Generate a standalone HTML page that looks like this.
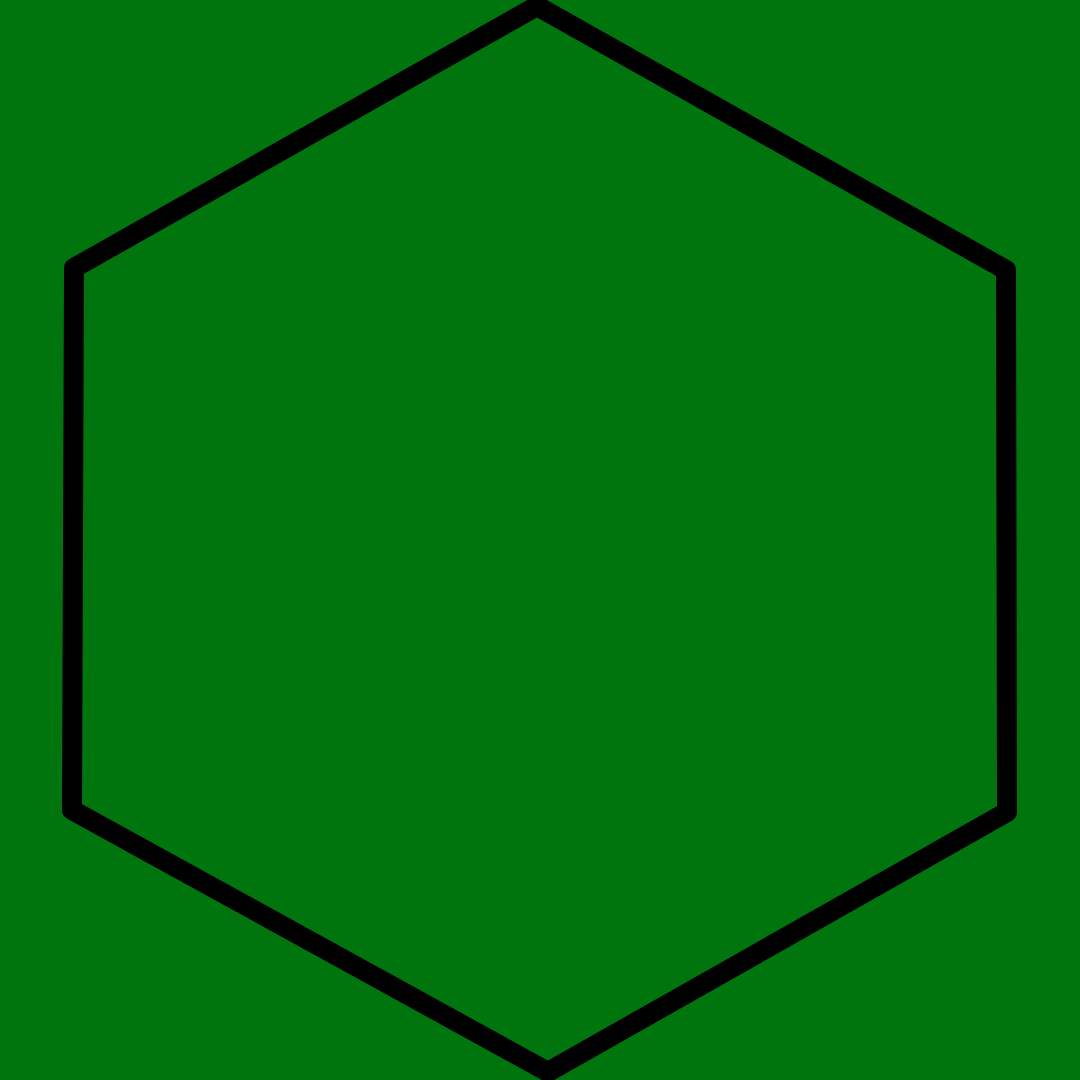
<!DOCTYPE html>
<html>
<head>
<meta charset="utf-8">
<style>
  html, body { margin: 0; padding: 0; width: 1080px; height: 1080px; overflow: hidden; background: #00750e; }
  svg { display: block; }
</style>
</head>
<body>
<svg width="1080" height="1080" viewBox="0 0 1080 1080">
  <rect x="0" y="0" width="1080" height="1080" fill="#00750e"/>
  <polygon
    points="537,6 1006,270 1007,812 548,1072 72,810 74,268"
    fill="none" stroke="#000000" stroke-width="20" stroke-linejoin="round"/>
</svg>
</body>
</html>
